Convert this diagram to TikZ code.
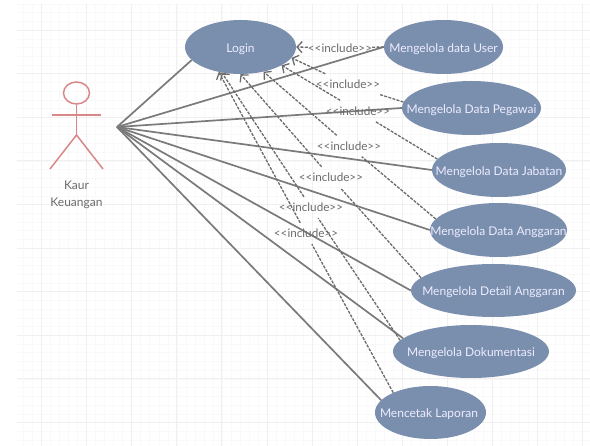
\documentclass[tikz,border=0pt]{standalone}
\usepackage{fontspec}
\setmainfont{Lato}
\usetikzlibrary{arrows.meta,shapes.geometric}
\definecolor{usecase}{HTML}{7A8EAE}
\definecolor{actorline}{HTML}{D98888}
\tikzset{
	gridminor/.style={draw=black!2.5, line width=0.6pt},
	gridmajor/.style={draw=black!6, line width=0.9pt},
	usecasenode/.style={ellipse, fill=usecase, text=white!93!blue, inner sep=0pt, font=\fontsize{12}{14}\selectfont},
	assoc/.style={draw=black!52, line width=1.7pt},
	incl/.style={draw=black!58, line width=1.3pt, dash pattern=on 3pt off 1.3pt},
	incltip/.style={-{Straight Barb[length=5pt,width=11pt]}},
	includelabel/.style={text=black!58, inner sep=0pt, minimum height=21pt, font=\fontsize{11.7}{14}\selectfont},
	actorpart/.style={draw=actorline, line width=1.5pt}
}
\begin{document}
\begin{tikzpicture}[x=1pt, y=-1pt]
\useasboundingbox (0, 0) rectangle (590, 446);
\fill [white] (0, 0) rectangle (590, 446);

\begin{scope}
\clip (17, 4) rectangle (590, 446);
\foreach \i in {0,...,64} {
	\draw [gridminor] ({23.5 + 9.02 * \i}, 4) -- ({23.5 + 9.02 * \i}, 446);
}
\foreach \i in {0,...,50} {
	\draw [gridminor] (17, {4 + 8.72 * \i}) -- (590, {4 + 8.72 * \i});
}
\foreach \i in {0,...,12} {
	\draw [gridmajor] ({41.5 + 45.1 * \i}, 4) -- ({41.5 + 45.1 * \i}, 446);
}
\foreach \i in {0,...,9} {
	\draw [gridmajor] (17, {30 + 43.6 * \i}) -- (590, {30 + 43.6 * \i});
}
\end{scope}

\foreach \name/\x/\y/\nodew/\nodeh/\txt in {
	login/240.5/47/111/54/Login,
	user/443.5/47/119/54/Mengelola data User,
	pegawai/471.5/108/139/54/Mengelola Data Pegawai,
	jabatan/499/170/134/54/Mengelola Data Jabatan,
	anggaran/498.5/230/137/54/Mengelola Data Anggaran,
	detail/493.5/290.5/165/53/Mengelola Detail Anggaran,
	dokumentasi/471/351.5/156/53/Mengelola Dokumentasi,
	laporan/430.5/412.5/111/53/Mencetak Laporan
	} {
	\node (\name) [usecasenode, minimum width=\nodew pt, minimum height=\nodeh pt] at (\x, \y) {\makebox[0pt]{\raisebox{-5.5pt}[0pt][0pt]{\txt}}};
}

\node (head) [ellipse, actorpart, minimum width=26pt, minimum height=22pt, inner sep=0pt] at (76.5, 93) {};
\coordinate (hip) at (76.5, 135);
\coordinate (armleft) at (52, 115);
\coordinate (armright) at (101, 115);
\coordinate (legleft) at (50, 169);
\coordinate (legright) at (103, 169);
\draw [actorpart] (head.south) -- (hip);
\draw [actorpart] (armleft) -- (armright);
\draw [actorpart] (legleft) -- (hip) -- (legright);
\node (actorname) [align=center, text=black!58, inner sep=0pt, font=\fontsize{12}{17}\selectfont] at (76.5, 194.5) {Kaur\\Keuangan};

\coordinate (hub) at (117, 127);
\foreach \name/\ang in {
	login/195,
	user/180,
	pegawai/180,
	jabatan/180,
	anggaran/180,
	detail/180,
	dokumentasi/169,
	laporan/166
	} {
	\draw [assoc] (hub) -- (\name.\ang);
}

\foreach \name/\ang/\loginang/\x/\y in {
	user/180/0/340/48,
	pegawai/175/-12.5/348/84.5,
	jabatan/170/-24/358/111,
	anggaran/170/-47.7/349/146,
	detail/170.7/-90/331/177.5,
	dokumentasi/171/-126/311/207.5,
	laporan/152.5/-131/306/233.5
	} {
	\node (label\name) [includelabel] at (\x, \y) {\raisebox{-1pt}{<{}<include>{}>}};
	\draw [incl] (\name.\ang) -- (label\name);
	\draw [incl, incltip] (label\name) -- (login.\loginang);
}
\end{tikzpicture}
\end{document}
